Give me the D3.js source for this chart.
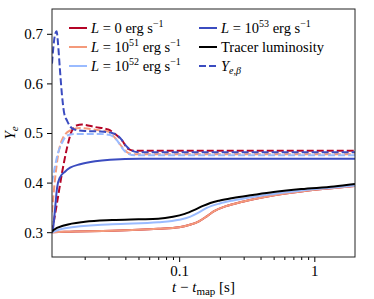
<!DOCTYPE html>
<html>
<head>
<meta charset="utf-8">
<script src="https://cdnjs.cloudflare.com/ajax/libs/d3/7.8.5/d3.min.js"></script>
<style>
  body { margin: 0; background: #fff; }
  text { font-family: "Liberation Serif", "DejaVu Serif", serif; fill: #000; }
  .axis path, .axis line { stroke: #000; }
  .axis text { font-size: 15px; }
</style>
</head>
<body>
<div id="chart"></div>
<script>
// x ticks / y ticks
var xMajor = [0.1, 1];
var xMinor = [0.02, 0.03, 0.04, 0.05, 0.06, 0.07, 0.08, 0.09, 0.2, 0.3, 0.4, 0.5, 0.6, 0.7, 0.8, 0.9];
var yTicks = [0.3, 0.4, 0.5, 0.6, 0.7];

// Y_e (solid)
var tL0  = [0.01146, 0.0143, 0.0319, 0.07, 0.1, 0.12, 0.14, 0.16, 0.18, 0.22, 0.3, 0.45, 0.8, 1.4, 2.0];
var yeL0 = [0.30, 0.301, 0.303, 0.307, 0.310, 0.315, 0.322, 0.332, 0.342, 0.352, 0.362, 0.372, 0.382, 0.389, 0.393];
var tL51  = [0.01146, 0.0143, 0.0319, 0.07, 0.1, 0.12, 0.14, 0.16, 0.18, 0.22, 0.3, 0.45, 0.8, 1.4, 2.0];
var yeL51 = [0.30, 0.301, 0.303, 0.307, 0.310, 0.315, 0.322, 0.332, 0.342, 0.352, 0.362, 0.372, 0.382, 0.389, 0.393];
var tL52  = [0.01146, 0.0143, 0.0319, 0.07, 0.1, 0.12, 0.14, 0.16, 0.2, 0.25, 0.35, 0.5, 0.8, 1.4, 2.0];
var yeL52 = [0.30, 0.308, 0.316, 0.320, 0.325, 0.331, 0.340, 0.349, 0.358, 0.364, 0.371, 0.377, 0.384, 0.390, 0.394];
var tL53  = [0.01146, 0.0117, 0.0121, 0.0125, 0.0131, 0.0143, 0.0156, 0.0185, 0.0239, 0.0308, 0.0514, 2.0];
var yeL53 = [0.30, 0.31, 0.35, 0.39, 0.41, 0.422, 0.43, 0.437, 0.443, 0.446, 0.448, 0.448];
var tTracer  = [0.01146, 0.0117, 0.0143, 0.0201, 0.0319, 0.05, 0.07, 0.09, 0.11, 0.13, 0.15, 0.17, 0.2, 0.25, 0.35, 0.5, 0.8, 1.4, 2.0];
var yeTracer = [0.30, 0.304, 0.314, 0.321, 0.3245, 0.326, 0.327, 0.331, 0.337, 0.345, 0.353, 0.359, 0.364, 0.369, 0.375, 0.381, 0.387, 0.392, 0.397];

// Y_e,beta (dashed)
var tbL0  = [0.01146, 0.0125, 0.0136, 0.0148, 0.0161, 0.0174, 0.0191, 0.0239, 0.0298, 0.0336, 0.0378, 0.0419, 0.0472, 2.0];
var ybL0  = [0.30, 0.36, 0.42, 0.47, 0.505, 0.515, 0.517, 0.512, 0.507, 0.498, 0.485, 0.468, 0.464, 0.464];
var tbL51 = [0.01146, 0.0121, 0.0127, 0.0138, 0.0156, 0.0185, 0.026, 0.0298, 0.0336, 0.0378, 0.0419, 0.0472, 2.0];
var ybL51 = [0.34, 0.41, 0.455, 0.49, 0.505, 0.51, 0.505, 0.503, 0.49, 0.472, 0.46, 0.457, 0.457];
var tbL52 = [0.01146, 0.0121, 0.0127, 0.0136, 0.0148, 0.017, 0.026, 0.0308, 0.0347, 0.0378, 0.0419, 0.0472, 2.0];
var ybL52 = [0.40, 0.435, 0.46, 0.48, 0.495, 0.498, 0.498, 0.496, 0.485, 0.47, 0.458, 0.455, 0.455];
var tbL53 = [0.01146, 0.0117, 0.0121, 0.0124, 0.0127, 0.0131, 0.0136, 0.0141, 0.0148, 0.0164, 0.0201, 0.026, 0.0319, 0.0366, 0.0405, 0.0449, 0.0514, 2.0];
var ybL53 = [0.64, 0.67, 0.70, 0.705, 0.68, 0.63, 0.575, 0.54, 0.525, 0.508, 0.504, 0.503, 0.50, 0.49, 0.474, 0.464, 0.461, 0.461];

var red = '#b40426', salmon = '#f49a7b', lightBlue = '#9abbff', blue = '#3b4cc0';

var margin = {top: 9, right: 19, bottom: 42, left: 52};
var widthCont = 374, heightCont = 299;
var width = widthCont - margin.left - margin.right;
var height = heightCont - margin.top - margin.bottom;

var x = d3.scaleLog().domain([0.01146, 2.0]).range([0, width]);
var y = d3.scaleLinear().domain([0.25, 0.75]).range([height, 0]);

var svg = d3.select('#chart').append('svg')
    .attr('width', widthCont)
    .attr('height', heightCont)
  .append('g')
    .attr('transform', 'translate(' + margin.left + ',' + margin.top + ')');

var zip = function(ts, vs) {
  return ts.map(function(t, i){ return {t: t, v: vs[i]}; });
};

var line = d3.line()
  .x(function(d){ return x(d.t); })
  .y(function(d){ return y(d.v); })
  .curve(d3.curveMonotoneX);

var series = [
  {data: zip(tL0, yeL0), color: red, dash: null},
  {data: zip(tbL0, ybL0), color: red, dash: '7,3'},
  {data: zip(tL51, yeL51), color: salmon, dash: null},
  {data: zip(tbL51, ybL51), color: salmon, dash: '7,3'},
  {data: zip(tL52, yeL52), color: lightBlue, dash: null},
  {data: zip(tbL52, ybL52), color: lightBlue, dash: '7,3'},
  {data: zip(tL53, yeL53), color: blue, dash: null},
  {data: zip(tbL53, ybL53), color: blue, dash: '7,3'},
  {data: zip(tTracer, yeTracer), color: '#000', dash: null}
];

svg.append('defs').append('clipPath').attr('id', 'clip')
  .append('rect').attr('width', width).attr('height', height);

svg.append('g')
    .attr('clip-path', 'url(#clip)')
  .selectAll('path')
    .data(series)
  .enter().append('path')
    .attr('d', function(d){ return line(d.data); })
    .attr('fill', 'none')
    .attr('stroke', function(d){ return d.color; })
    .attr('stroke-width', 2)
    .attr('stroke-dasharray', function(d){ return d.dash; });

// Axes
svg.append('g')
    .attr('class', 'x axis')
    .attr('transform', 'translate(0,' + height + ')')
    .call(d3.axisBottom(x).tickValues(xMajor).tickSize(5).tickPadding(3).tickFormat(d3.format('')))
    .call(function(g){ g.select('.domain').remove(); });

svg.append('g')
    .attr('class', 'x axis minor')
    .attr('transform', 'translate(0,' + height + ')')
    .call(d3.axisBottom(x).tickValues(xMinor).tickSize(3).tickFormat(''))
    .call(function(g){ g.select('.domain').remove(); });

svg.append('g')
    .attr('class', 'y axis')
    .call(d3.axisLeft(y).tickValues(yTicks).tickSize(5).tickPadding(4).tickFormat(d3.format('.1f')))
    .call(function(g){ g.select('.domain').remove(); });

svg.append('rect')
  .attr('width', width)
  .attr('height', height)
  .attr('fill', 'none')
  .attr('stroke', '#222')
  .attr('stroke-width', 1);

// Axis labels
var xl = svg.append('text')
  .attr('x', width / 2)
  .attr('y', height + 35)
  .attr('text-anchor', 'middle')
  .style('font-size', '15px');
xl.append('tspan').style('font-style', 'italic').text('t');
xl.append('tspan').text(' \u2212 ');
xl.append('tspan').style('font-style', 'italic').text('t');
xl.append('tspan').attr('dy', 3).style('font-size', '11px').text('map');
xl.append('tspan').attr('dy', -3).text(' [s]');

var yl = svg.append('text')
  .attr('transform', 'translate(' + (-37) + ',' + (height / 2) + ') rotate(-90)')
  .attr('text-anchor', 'middle')
  .style('font-size', '15px');
yl.append('tspan').style('font-style', 'italic').text('Y');
yl.append('tspan').attr('dy', 3).style('font-size', '11px').style('font-style', 'italic').text('e');

// Legend
var legendItems = [
  {col: 0, row: 0, color: red, dash: null, exp: null},
  {col: 0, row: 1, color: salmon, dash: null, exp: '51'},
  {col: 0, row: 2, color: lightBlue, dash: null, exp: '52'},
  {col: 1, row: 0, color: blue, dash: null, exp: '53'},
  {col: 1, row: 1, color: '#000', dash: null, label: 'Tracer luminosity'},
  {col: 1, row: 2, color: blue, dash: '7,3', label: 'beta'}
];

var legend = svg.append('g').attr('class', 'legend')
  .selectAll('g')
    .data(legendItems)
  .enter().append('g')
    .attr('transform', function(d){ return 'translate(' + (17 + d.col * 130) + ',' + (19 + d.row * 19) + ')'; });

legend.append('line')
  .attr('x1', 0).attr('x2', 18)
  .attr('stroke', function(d){ return d.color; })
  .attr('stroke-width', 2)
  .attr('stroke-dasharray', function(d){ return d.dash; });

legend.each(function(d){
  var t = d3.select(this).append('text')
    .attr('x', 22)
    .attr('y', 5)
    .style('font-size', '14.5px');
  if (d.label === 'Tracer luminosity') {
    t.text(d.label);
  } else if (d.label === 'beta') {
    t.append('tspan').style('font-style', 'italic').text('Y');
    t.append('tspan').attr('dy', 3).style('font-size', '10px').style('font-style', 'italic').text('e,\u03b2');
  } else {
    t.append('tspan').style('font-style', 'italic').text('L');
    t.append('tspan').text(' = ');
    if (d.exp) {
      t.append('tspan').text('10');
      t.append('tspan').attr('dy', -6).style('font-size', '10px').text(d.exp);
      t.append('tspan').attr('dy', 6).text(' erg s');
    } else {
      t.append('tspan').text('0 erg s');
    }
    t.append('tspan').attr('dy', -6).style('font-size', '10px').text('\u22121');
  }
});
</script>
</body>
</html>
